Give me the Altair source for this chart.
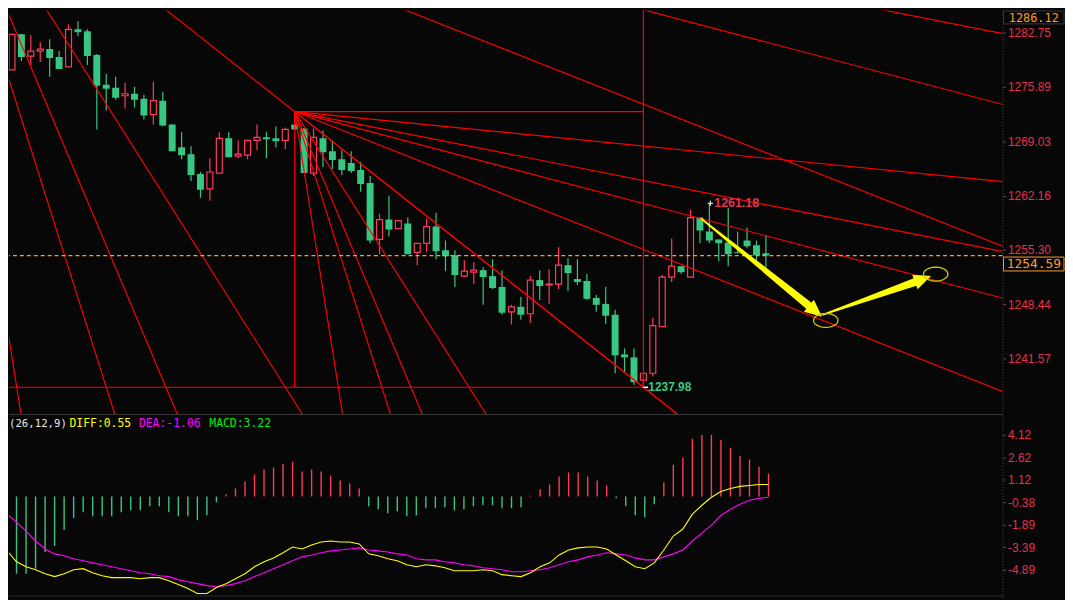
import math
import numpy as np
import pandas as pd
import altair as alt

# ---------------- values ----------------
opens = [1278.0, 1282.5, 1279.75, 1280.38, 1280.63, 1279.63, 1278.38, 1283.13, 1282.88, 1279.88,
         1276.13, 1275.75, 1274.75, 1275.0, 1274.38, 1272.38, 1274.13, 1271.13, 1268.25, 1267.38,
         1264.88, 1263.0, 1265.0, 1269.38, 1267.13, 1267.25, 1269.13, 1269.5, 1269.38, 1269.13,
         1271.13, 1270.63, 1265.0, 1269.38, 1267.75, 1266.75, 1266.25, 1265.38, 1263.75, 1256.63,
         1259.13, 1258.0, 1258.63, 1255.0, 1256.13, 1258.25, 1255.25, 1254.63, 1252.0, 1252.5,
         1252.75, 1252.0, 1250.63, 1247.5, 1248.13, 1247.25, 1251.5, 1250.88, 1251.0, 1253.38,
         1251.63, 1251.38, 1249.25, 1248.5, 1247.13, 1242.13, 1241.75, 1238.88, 1239.75, 1245.63,
         1251.88, 1253.25, 1251.88, 1259.38, 1257.63, 1256.63, 1256.25, 1255.0, 1256.5, 1255.88,
         1254.88]
highs = [1282.5, 1282.5, 1282.38, 1281.5, 1281.88, 1280.38, 1283.75, 1284.13, 1283.13, 1280.0,
         1277.5, 1277.13, 1276.38, 1275.88, 1274.88, 1276.5, 1275.25, 1271.13, 1270.13, 1268.38,
         1265.13, 1266.88, 1270.13, 1270.13, 1269.13, 1269.13, 1271.13, 1270.13, 1270.88, 1270.75,
         1272.75, 1270.63, 1270.63, 1270.38, 1269.13, 1267.88, 1267.75, 1266.38, 1264.63, 1259.88,
         1262.13, 1259.0, 1259.38, 1256.13, 1259.25, 1260.0, 1256.5, 1255.25, 1254.0, 1253.75,
         1253.13, 1254.13, 1252.75, 1248.38, 1249.38, 1252.0, 1252.75, 1252.88, 1255.63, 1254.25,
         1254.13, 1252.25, 1249.63, 1250.63, 1247.75, 1242.88, 1242.88, 1239.75, 1246.75, 1252.13,
         1256.75, 1253.25, 1260.38, 1259.38, 1261.18, 1256.63, 1260.63, 1257.63, 1258.13, 1256.5,
         1257.13]
lows = [1278.0, 1279.13, 1278.63, 1279.0, 1277.13, 1278.13, 1278.38, 1282.25, 1278.63, 1270.5,
        1272.88, 1274.25, 1273.13, 1273.25, 1271.75, 1271.13, 1270.88, 1267.75, 1266.75, 1264.0,
        1261.88, 1261.5, 1265.0, 1267.0, 1266.88, 1266.75, 1267.88, 1266.88, 1268.25, 1268.0,
        1270.5, 1265.0, 1264.63, 1265.75, 1265.5, 1264.75, 1265.0, 1262.63, 1256.13, 1254.75,
        1257.0, 1258.0, 1254.75, 1253.38, 1255.0, 1254.13, 1252.63, 1250.63, 1251.88, 1251.0,
        1248.38, 1250.38, 1247.13, 1245.88, 1246.5, 1246.13, 1249.0, 1248.5, 1250.38, 1250.13,
        1250.88, 1249.0, 1247.5, 1246.0, 1239.75, 1239.75, 1238.25, 1237.98, 1239.38, 1245.63,
        1251.25, 1252.25, 1251.88, 1256.13, 1256.13, 1253.88, 1253.25, 1254.88, 1255.5, 1254.0,
        1253.0]
closes = [1282.5, 1279.63, 1280.38, 1280.63, 1279.5, 1278.13, 1283.13, 1282.75, 1279.75, 1276.0,
          1275.63, 1274.5, 1275.0, 1274.25, 1272.25, 1274.13, 1271.0, 1267.75, 1267.25, 1264.75,
          1262.88, 1265.13, 1269.38, 1267.0, 1267.38, 1269.13, 1269.5, 1269.25, 1269.0, 1270.5,
          1270.5, 1265.0, 1269.5, 1267.63, 1266.63, 1265.38, 1265.25, 1263.63, 1256.5, 1259.13,
          1257.88, 1259.0, 1254.75, 1256.13, 1258.25, 1255.13, 1254.5, 1252.13, 1252.63, 1252.75,
          1251.88, 1250.5, 1247.38, 1248.13, 1247.13, 1251.5, 1250.75, 1251.0, 1253.38, 1252.38,
          1251.25, 1249.13, 1248.38, 1247.0, 1242.0, 1241.75, 1238.63, 1239.75, 1245.75, 1251.88,
          1253.25, 1252.5, 1259.38, 1257.75, 1256.5, 1256.13, 1254.75, 1254.88, 1255.75, 1254.63,
          1254.59]

macd_hist = [-5.16, -5.16, -5.16, -4.82, -3.70, -3.30, -2.24, -1.44, -1.05, -1.32,
             -1.32, -1.32, -1.05, -0.91, -0.91, -0.65, -0.65, -1.05, -1.32, -1.32,
             -1.58, -1.25, -0.38, 0.15, 0.54, 1.01, 1.47, 1.80, 1.94, 2.20,
             2.33, 1.67, 1.80, 1.67, 1.40, 1.07, 0.87, 0.54, -0.65, -0.85,
             -1.11, -0.98, -1.31, -1.25, -0.78, -0.78, -0.72, -0.91, -0.85, -0.65,
             -0.58, -0.58, -0.78, -0.78, -0.72, 0.05, 0.48, 0.81, 1.34, 1.60,
             1.60, 1.34, 1.07, 0.74, -0.12, -0.65, -1.25, -1.38, -0.52, 0.94,
             2.13, 2.60, 3.86, 4.12, 4.12, 3.79, 3.26, 2.73, 2.47, 2.00,
             1.54]
# DIFF and DEA start one bar earlier (bar -1, at the left edge)
diff_line = [-3.10,
             -3.63, -4.36, -4.69, -4.89, -5.16, -5.35, -5.16, -4.89, -4.82, -5.09,
             -5.29, -5.42, -5.42, -5.42, -5.49, -5.42, -5.42, -5.62, -5.88, -6.15,
             -6.48, -6.48, -6.08, -5.82, -5.49, -5.16, -4.69, -4.36, -4.10, -3.76,
             -3.37, -3.50, -3.23, -3.04, -2.97, -3.04, -3.04, -3.17, -3.83, -3.96,
             -4.16, -4.29, -4.56, -4.69, -4.56, -4.63, -4.76, -4.96, -4.96, -4.96,
             -4.89, -4.96, -5.22, -5.29, -5.35, -5.09, -4.69, -4.43, -3.90, -3.57,
             -3.43, -3.37, -3.37, -3.50, -3.90, -4.29, -4.69, -4.82, -4.43, -3.57,
             -2.64, -2.17, -1.18, -0.58, -0.05, 0.34, 0.54, 0.68, 0.74, 0.81,
             0.81]
dea_line = [-0.60,
            -1.18, -1.71, -2.31, -2.97, -3.50, -3.83, -3.96, -4.16, -4.29, -4.43,
            -4.56, -4.69, -4.82, -4.96, -5.09, -5.16, -5.29, -5.35, -5.55, -5.69,
            -5.82, -5.95, -6.02, -5.95, -5.82, -5.62, -5.35, -5.09, -4.82, -4.56,
            -4.29, -4.03, -3.90, -3.76, -3.63, -3.57, -3.50, -3.43, -3.57, -3.63,
            -3.70, -3.83, -3.90, -4.16, -4.23, -4.23, -4.36, -4.43, -4.56, -4.63,
            -4.76, -4.82, -4.89, -5.02, -5.02, -4.96, -4.89, -4.76, -4.56, -4.36,
            -4.23, -4.03, -3.90, -3.76, -3.83, -3.90, -4.10, -4.23, -4.23, -4.03,
            -3.83, -3.57, -2.97, -2.44, -1.91, -1.25, -0.85, -0.52, -0.25, -0.12,
            -0.05]

price_ticks = [1282.75, 1275.89, 1269.03, 1262.16, 1255.30, 1248.44, 1241.57]
macd_ticks = [4.12, 2.62, 1.12, -0.38, -1.89, -3.39, -4.89]

# Gann fans: first anchored at the swing high, box to the swing low; second further up the 1x1 line
fan_high_bar, fan_high_price = 30, 1272.75
fan_low_bar, fan_low_price = 67, 1237.98
fan2_bar, fan2_price = -9, 1309.4
gann_ratios = [1 / 8, 1 / 4, 1 / 3, 1 / 2, 1, 2, 3, 4, 8]

last_price = 1254.59
top_price = 1286.12
high_mark_bar, high_mark_price = 74, 1261.18
low_mark_bar, low_mark_price = 67, 1237.98

arrow_start_bar = [73.13, 86.04]
arrow_start_price = [1259.25, 1247.13]
arrow_base_bar = [84.58, 95.83]
arrow_base_price = [1248.25, 1251.25]
arrow_tip_bar = [85.94, 97.5]
arrow_tip_price = [1246.88, 1252.0]

ellipse_bar = [86.35, 98.02]
ellipse_price = [1246.41, 1252.25]

legend_texts = ["(26,12,9)", "DIFF:0.55", "DEA:-1.06", "MACD:3.22"]

# ---------------- styling / layout ----------------
BG = "#070707"
RED = "#ff3a5c"
GREEN = "#38c683"
FAN = "#ff0000"
AXRED = "#e8304e"
ORANGE = "#ff9a30"
YELLOW = "#ffff00"
MAGENTA = "#ff00ff"

W = 1002
H_MAIN = 407
H_MACD = 185
X_DOM = [0.2083, 104.583]
P_DOM = [1234.6, 1285.5]
M_DOM = [-6.746, 5.513]
PX_BAR = W / (X_DOM[1] - X_DOM[0])
PX_PRICE = H_MAIN / (P_DOM[1] - P_DOM[0])

xsc = alt.Scale(domain=X_DOM, nice=False, zero=False)
psc = alt.Scale(domain=P_DOM, nice=False, zero=False)
msc = alt.Scale(domain=M_DOM, nice=False, zero=False)

axis_common = dict(orient="right", title=None, grid=False, labelColor=AXRED,
                   labelFont="Liberation Sans", labelFontSize=12, labelPadding=2,
                   tickColor="#8a3040", tickSize=3, domainColor="#505050",
                   domainDash=[1, 2], labelFlush=False, labelOverlap=False)
price_axis = alt.Axis(values=price_ticks, format=".2f", **axis_common)
macd_axis = alt.Axis(values=macd_ticks,
                     labelExpr="replace(format(datum.value, '.2f'), '\u2212', '-')",
                     **axis_common)

dir_color = alt.Color("dir:N", scale=alt.Scale(domain=["up", "down"], range=[RED, GREEN]), legend=None)

def bx(field):
    return alt.X(field, type="quantitative", scale=xsc, axis=None)

def py(field):
    return alt.Y(field, type="quantitative", scale=psc, axis=price_axis)

def my(field):
    return alt.Y(field, type="quantitative", scale=msc, axis=macd_axis)

# ---------------- main (price) panel ----------------
cdf = pd.DataFrame({"bar": np.arange(len(opens)), "open": opens, "high": highs,
                    "low": lows, "close": closes})
cdf["dir"] = np.where(cdf["close"] >= cdf["open"], "up", "down")

wicks = alt.Chart(cdf).mark_rule(strokeWidth=1.2, clip=True).encode(
    x=bx("bar"), y=py("low"), y2="high", color=dir_color)
up_bodies = alt.Chart(cdf).transform_filter("datum.dir == 'up'").mark_bar(
    size=6, fill=BG, stroke=RED, strokeWidth=1.2, clip=True).encode(
    x=bx("bar"), y=py("open"), y2="close")
down_bodies = alt.Chart(cdf).transform_filter("datum.dir == 'down'").mark_bar(
    size=7, color=GREEN, clip=True).encode(x=bx("bar"), y=py("open"), y2="close")

unit = (fan_high_price - fan_low_price) / (fan_low_bar - fan_high_bar)
segs = []
for ob, op in [(fan_high_bar, fan_high_price), (fan2_bar, fan2_price)]:
    for k in gann_ratios:
        run = min(200.0, 80.0 / (k * unit))
        segs.append(dict(x=ob, y=op, x2=ob + run, y2=op - k * unit * run))
segs += [
    dict(x=fan_high_bar, y=fan_high_price, x2=fan_low_bar, y2=fan_high_price),
    dict(x=fan_high_bar, y=fan_high_price, x2=fan_high_bar, y2=fan_low_price),
    dict(x=X_DOM[0] - 2, y=fan_low_price, x2=fan_low_bar, y2=fan_low_price),
    dict(x=fan_low_bar, y=fan_low_price, x2=fan_low_bar, y2=P_DOM[1] + 2),
]
fans = alt.Chart(pd.DataFrame(segs)).mark_rule(color=FAN, strokeWidth=1.15, clip=True).encode(
    x=bx("x"), x2="x2", y=py("y"), y2="y2")

last_line = alt.Chart(pd.DataFrame({"p": [last_price]})).mark_rule(
    color=ORANGE, strokeDash=[4, 3], strokeWidth=1.2).encode(y=py("p"))

hi_df = pd.DataFrame({"bar": [high_mark_bar], "price": [high_mark_price], "txt": [f"{high_mark_price:.2f}"]})
hi_text = alt.Chart(hi_df).mark_text(align="left", baseline="middle", dx=5, font="Liberation Sans",
                                     fontSize=12.5, fontWeight="bold", color="#e8324e").encode(
    x=bx("bar"), y=py("price"), text="txt:N")
hi_cross = alt.Chart(hi_df).mark_point(shape="M-1,0L1,0M0,-1L0,1", size=30, filled=False,
                                       stroke="#ffffff", strokeWidth=1, opacity=1, xOffset=1).encode(
    x=bx("bar"), y=py("price"))

lo_df = pd.DataFrame({"bar": [low_mark_bar], "bar_end": [low_mark_bar + 0.5],
                      "price": [low_mark_price], "txt": [f"{low_mark_price:.2f}"]})
lo_text = alt.Chart(lo_df).mark_text(align="left", baseline="middle", dx=5, font="Liberation Sans",
                                     fontSize=12, fontWeight="bold", color="#3cc884").encode(
    x=bx("bar"), y=py("price"), text="txt:N")
lo_dash = alt.Chart(lo_df).mark_rule(color="#ffffff", strokeWidth=1.5).encode(
    x=bx("bar"), x2="bar_end", y=py("price"))

# arrows
shaft_rows, head_rows = [], []
for a in range(len(arrow_start_bar)):
    shaft_rows.append(dict(a=a, o=0, bar=arrow_start_bar[a], price=arrow_start_price[a], w=1.5))
    shaft_rows.append(dict(a=a, o=1, bar=arrow_base_bar[a], price=arrow_base_price[a], w=8))
    dxp = (arrow_tip_bar[a] - arrow_base_bar[a]) * PX_BAR
    dyp = -(arrow_tip_price[a] - arrow_base_price[a]) * PX_PRICE
    ang = math.degrees(math.atan2(dxp, -dyp)) % 360
    head_rows.append(dict(bar=(arrow_base_bar[a] + arrow_tip_bar[a]) / 2,
                          price=(arrow_base_price[a] + arrow_tip_price[a]) / 2, ang=ang))
shafts = alt.Chart(pd.DataFrame(shaft_rows)).mark_trail(color=YELLOW, clip=True).encode(
    x=bx("bar"), y=py("price"), size=alt.Size("w:Q", scale=None, legend=None),
    detail="a:N", order="o:Q")
heads = alt.Chart(pd.DataFrame(head_rows)).mark_point(
    shape="M0,-1L0.9,1L-0.9,1Z", filled=True, size=300, color=YELLOW, opacity=1, strokeWidth=0).encode(
    x=bx("bar"), y=py("price"), angle=alt.Angle("ang:Q", scale=None))

ell_path = "M" + "L".join(f"{math.cos(t):.3f},{0.57 * math.sin(t):.3f}"
                          for t in np.linspace(0, 2 * math.pi, 48, endpoint=False)) + "Z"
ellipses = alt.Chart(pd.DataFrame({"bar": ellipse_bar, "price": ellipse_price})).mark_point(
    shape=ell_path, size=605, filled=False, stroke="#cfc410", strokeWidth=1.3, opacity=1).encode(
    x=bx("bar"), y=py("price"))

# boxed prices at the right (top one kept inside the panel's top edge)
one = pd.DataFrame({"a": [0]})
top_rect = alt.Chart(one).mark_rect(fill=BG, stroke="#3a3a3a", strokeWidth=1).encode(
    x=alt.value(W + 1), x2=alt.value(W + 62), y=alt.value(0.5), y2=alt.value(13.5))
top_text = alt.Chart(pd.DataFrame({"txt": [f"{top_price:.2f}"]})).mark_text(
    align="center", baseline="middle", font="DejaVu Sans Mono", fontSize=12, color=ORANGE).encode(
    x=alt.value(W + 31.5), y=alt.value(7.5), text="txt:N")

lp_df = pd.DataFrame({"price": [last_price], "txt": [f"{last_price:.2f}"]})
lp_rect = alt.Chart(lp_df).mark_rect(fill=BG, stroke=ORANGE, strokeWidth=1, yOffset=1.5, y2Offset=15.5).encode(
    x=alt.value(W + 1), x2=alt.value(W + 62), y=py("price"), y2="price")
lp_text = alt.Chart(lp_df).mark_text(align="center", baseline="middle", dy=8.5,
                                     font="DejaVu Sans Mono", fontSize=13, color=ORANGE).encode(
    x=alt.value(W + 31.5), y=py("price"), text="txt:N")

main = alt.layer(wicks, up_bodies, down_bodies, fans, last_line, lo_dash, lo_text, hi_cross, hi_text,
                 shafts, heads, ellipses, top_rect, top_text, lp_rect, lp_text
                 ).properties(width=W, height=H_MAIN)

# ---------------- MACD panel ----------------
hdf = pd.DataFrame({"bar": np.arange(len(macd_hist)), "v": macd_hist})
hdf["dir"] = np.where(hdf["v"] >= 0, "up", "down")
hbars = alt.Chart(hdf).mark_rule(strokeWidth=1.4, clip=True).encode(
    x=bx("bar"), y=my("v"), y2=alt.datum(0), color=dir_color)

ldf = pd.DataFrame({"bar": np.arange(-1, len(diff_line) - 1), "diff": diff_line, "dea": dea_line})
dea_l = alt.Chart(ldf).mark_line(color=MAGENTA, strokeWidth=1.1, clip=True).encode(x=bx("bar"), y=my("dea"))
diff_l = alt.Chart(ldf).mark_line(color=YELLOW, strokeWidth=1.1, clip=True).encode(x=bx("bar"), y=my("diff"))

sep_top = alt.Chart(one).mark_rule(color="#3a3a3a", strokeWidth=1).encode(
    x=alt.value(0), x2=alt.value(W), y=alt.value(0.5))
sep_bot = alt.Chart(one).mark_rule(color="#2c2c2c", strokeWidth=1).encode(
    x=alt.value(0), x2=alt.value(W), y=alt.value(183.5))

leg_df = pd.DataFrame({"txt": legend_texts,
                       "col": ["#e6e6e6", YELLOW, MAGENTA, "#00ee00"],
                       "lx": [0, 61, 131, 202],
                       "fs": [10.8, 11.5, 11.5, 11.5]})
legend = alt.Chart(leg_df).mark_text(align="left", baseline="middle", font="DejaVu Sans Mono").encode(
    x=alt.X("lx:Q", scale=None), y=alt.value(10), text="txt:N",
    color=alt.Color("col:N", scale=None), size=alt.Size("fs:Q", scale=None))

macd = alt.layer(hbars, dea_l, diff_l, sep_top, sep_bot, legend).properties(width=W, height=H_MACD)

chart = alt.vconcat(main, macd, spacing=0).properties(
    padding=0, background=BG,
).configure_view(stroke=None)

chart.save("out.html", embed_options={"renderer": "svg", "actions": False})
